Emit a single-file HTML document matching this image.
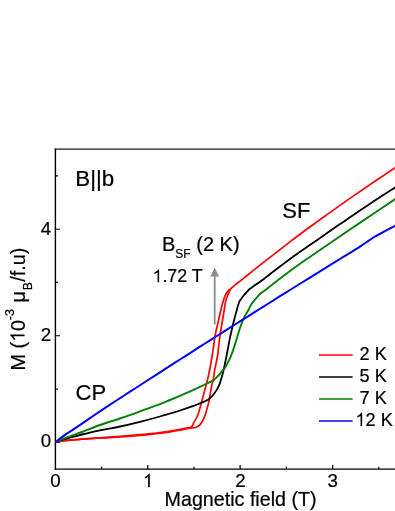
<!DOCTYPE html>
<html>
<head>
<meta charset="utf-8">
<title>Magnetization</title>
<style>
html,body{margin:0;padding:0;background:#fff;}
body{width:395px;height:511px;overflow:hidden;}
svg{display:block;will-change:transform;}
text{font-family:"Liberation Sans",sans-serif;fill:#000;stroke:#000;stroke-width:0.22px;}
</style>
</head>
<body>
<svg width="395" height="511" viewBox="0 0 395 511">
<rect x="0" y="0" width="395" height="511" fill="#ffffff"/>

<!-- axes -->
<g stroke="#000" stroke-width="1.4" fill="none">
<path d="M55.4,148.4 L55.4,469.8"/>
<path d="M54.7,469.1 L395,469.1"/>
</g>
<path d="M54.7,149.1 L395,149.1" stroke="#1a1a1a" stroke-width="1.3" fill="none"/>
<!-- ticks -->
<g stroke="#000" stroke-width="1.2" fill="none">
<path d="M55.4,442.35 H60 M55.4,335.75 H60 M55.4,229.25 H60"/>
<path d="M55.4,389.05 H58 M55.4,282.45 H58 M55.4,175.9 H58"/>
<path d="M147.8,469.1 V465 M240.1,469.1 V465 M332.6,469.1 V465"/>
<path d="M101.6,469.1 V466.8 M194,469.1 V466.8 M286.4,469.1 V466.8 M378.8,469.1 V466.8"/>
</g>

<!-- data curves -->
<g fill="none" stroke-linejoin="round" stroke-linecap="butt">
<path id="c2a" stroke="#ff0000" stroke-width="1.7" d="M55.50,442.40 C55.83,442.30 56.75,442.00 57.50,441.80 C58.25,441.60 57.92,441.48 60.00,441.20 C62.08,440.92 66.33,440.43 70.00,440.10 C73.67,439.77 77.00,439.58 82.00,439.20 C87.00,438.82 93.67,438.28 100.00,437.82 C106.33,437.37 113.33,437.00 120.00,436.47 C126.67,435.95 135.00,435.16 140.00,434.70 C145.00,434.24 146.67,434.05 150.00,433.70 C153.33,433.35 156.67,433.02 160.00,432.60 C163.33,432.18 166.67,431.73 170.00,431.20 C173.33,430.67 177.33,429.90 180.00,429.40 C182.67,428.90 184.28,428.52 186.00,428.20 C187.72,427.88 189.27,427.87 190.30,427.50 C191.33,427.13 191.63,426.78 192.20,426.00 C192.77,425.22 192.95,424.22 193.70,422.80 C194.45,421.38 195.82,419.40 196.70,417.50 C197.58,415.60 198.30,413.55 199.00,411.40 C199.70,409.25 200.17,407.30 200.90,404.60 C201.63,401.90 202.35,399.13 203.40,395.20 C204.45,391.27 206.16,385.20 207.20,381.00 C208.24,376.80 208.80,374.33 209.65,370.00 C210.50,365.67 211.38,360.83 212.30,355.00 C213.23,349.17 214.33,340.00 215.20,335.00 C216.07,330.00 216.75,328.33 217.50,325.00 C218.25,321.67 218.93,318.33 219.70,315.00 C220.47,311.67 221.33,307.88 222.10,305.00 C222.87,302.12 223.58,299.67 224.30,297.70 C225.02,295.73 225.62,294.50 226.40,293.20 C227.18,291.90 228.33,290.57 229.00,289.90 C229.67,289.23 229.43,290.00 230.40,289.20 C231.37,288.40 233.32,286.35 234.80,285.10 C236.28,283.85 237.73,282.90 239.30,281.70 C240.87,280.50 240.75,280.65 244.20,277.90 C247.65,275.15 253.07,270.67 260.00,265.20 C266.93,259.73 279.13,250.27 285.80,245.10 C292.47,239.93 293.22,239.22 300.00,234.20 C306.78,229.18 317.33,221.55 326.50,215.00 C335.67,208.45 343.25,203.00 355.00,194.90 C366.75,186.80 390.00,171.15 397.00,166.40"/>
<path id="c2b" stroke="#ff0000" stroke-width="1.7" d="M55.50,442.40 C55.83,442.30 56.75,442.00 57.50,441.80 C58.25,441.60 57.92,441.48 60.00,441.20 C62.08,440.92 66.33,440.43 70.00,440.10 C73.67,439.77 77.00,439.55 82.00,439.20 C87.00,438.85 93.67,438.36 100.00,437.99 C106.33,437.61 113.33,437.40 120.00,436.96 C126.67,436.52 135.00,435.79 140.00,435.35 C145.00,434.91 146.67,434.70 150.00,434.35 C153.33,434.00 156.67,433.67 160.00,433.25 C163.33,432.83 166.67,432.38 170.00,431.85 C173.33,431.32 177.33,430.55 180.00,430.05 C182.67,429.55 184.28,429.17 186.00,428.85 C187.72,428.53 189.13,428.31 190.30,428.15 C191.47,427.99 192.15,428.01 193.00,427.90 C193.85,427.79 194.63,427.72 195.40,427.50 C196.17,427.28 196.88,427.00 197.60,426.60 C198.32,426.20 198.83,426.12 199.70,425.10 C200.57,424.08 201.85,422.28 202.80,420.50 C203.75,418.72 204.65,416.55 205.40,414.40 C206.15,412.25 206.72,409.75 207.30,407.60 C207.88,405.45 208.15,405.27 208.90,401.50 C209.65,397.73 211.07,388.58 211.80,385.00 C212.53,381.42 212.82,382.50 213.30,380.00 C213.78,377.50 213.97,374.17 214.70,370.00 C215.43,365.83 217.02,359.17 217.70,355.00 C218.38,350.83 218.40,348.33 218.80,345.00 C219.20,341.67 219.62,338.33 220.10,335.00 C220.58,331.67 221.15,328.33 221.70,325.00 C222.25,321.67 222.85,318.33 223.40,315.00 C223.95,311.67 224.53,307.62 225.00,305.00 C225.47,302.38 225.65,301.15 226.20,299.30 C226.75,297.45 227.62,295.55 228.30,293.90 C228.98,292.25 229.97,290.15 230.30,289.40"/>
<path id="c5" stroke="#000000" stroke-width="1.8" d="M55.50,442.40 C55.83,442.22 56.75,441.63 57.50,441.30 C58.25,440.97 57.92,441.02 60.00,440.40 C62.08,439.78 66.33,438.58 70.00,437.60 C73.67,436.62 77.00,435.70 82.00,434.50 C87.00,433.30 93.67,431.73 100.00,430.40 C106.33,429.07 113.33,427.93 120.00,426.50 C126.67,425.07 133.33,423.47 140.00,421.80 C146.67,420.13 155.00,417.88 160.00,416.50 C165.00,415.12 166.67,414.50 170.00,413.50 C173.33,412.50 176.22,411.72 180.00,410.50 C183.78,409.28 189.37,407.40 192.70,406.20 C196.03,405.00 197.52,404.32 200.00,403.30 C202.48,402.28 205.45,401.45 207.60,400.10 C209.75,398.75 211.38,396.90 212.90,395.20 C214.42,393.50 215.62,391.65 216.70,389.90 C217.78,388.15 218.70,386.35 219.40,384.70 C220.10,383.05 220.20,382.45 220.90,380.00 C221.60,377.55 222.57,374.50 223.60,370.00 C224.63,365.50 226.10,358.08 227.10,353.00 C228.10,347.92 229.02,342.50 229.60,339.50 C230.18,336.50 229.95,337.83 230.60,335.00 C231.25,332.17 232.47,326.67 233.50,322.50 C234.53,318.33 236.02,312.92 236.80,310.00 C237.58,307.08 237.73,306.50 238.20,305.00 C238.67,303.50 239.32,301.73 239.60,301.00 C239.88,300.27 239.15,301.60 239.90,300.60 C240.65,299.60 242.55,296.87 244.10,295.00 C245.65,293.13 248.28,290.40 249.20,289.40 C250.12,288.40 248.55,289.77 249.60,289.00 C250.65,288.23 253.60,286.13 255.50,284.80 C257.40,283.47 256.92,284.05 261.00,281.00 C265.08,277.95 273.50,271.37 280.00,266.50 C286.50,261.63 293.33,256.57 300.00,251.80 C306.67,247.03 313.33,242.52 320.00,237.90 C326.67,233.28 331.97,229.58 340.00,224.10 C348.03,218.62 358.70,211.30 368.20,205.00 C377.70,198.70 392.20,189.42 397.00,186.30"/>
<path id="c7" stroke="#008000" stroke-width="1.9" d="M55.50,442.40 C55.83,442.18 56.75,441.50 57.50,441.10 C58.25,440.70 57.92,440.80 60.00,440.00 C62.08,439.20 66.33,437.63 70.00,436.30 C73.67,434.97 77.00,433.88 82.00,432.00 C87.00,430.12 93.67,427.25 100.00,425.00 C106.33,422.75 114.67,420.27 120.00,418.50 C125.33,416.73 128.67,415.60 132.00,414.40 C135.33,413.20 135.33,413.02 140.00,411.30 C144.67,409.58 155.00,405.98 160.00,404.10 C165.00,402.22 166.67,401.38 170.00,400.00 C173.33,398.62 176.67,397.23 180.00,395.80 C183.33,394.37 186.67,392.90 190.00,391.40 C193.33,389.90 197.17,388.12 200.00,386.80 C202.83,385.48 204.72,384.63 207.00,383.50 C209.28,382.37 211.78,381.33 213.70,380.00 C215.62,378.67 216.98,377.13 218.50,375.50 C220.02,373.87 221.62,371.63 222.80,370.20 C223.98,368.77 224.73,368.22 225.60,366.90 C226.47,365.58 227.18,363.92 228.00,362.30 C228.82,360.68 229.52,359.60 230.50,357.20 C231.48,354.80 232.90,350.85 233.90,347.90 C234.90,344.95 235.85,341.65 236.50,339.50 C237.15,337.35 237.18,337.00 237.80,335.00 C238.42,333.00 239.17,330.40 240.20,327.50 C241.23,324.60 242.67,320.43 244.00,317.60 C245.33,314.77 247.05,312.60 248.20,310.50 C249.35,308.40 249.93,306.62 250.90,305.00 C251.87,303.38 252.85,302.25 254.00,300.80 C255.15,299.35 256.60,297.58 257.80,296.30 C259.00,295.02 260.00,294.10 261.20,293.10 C262.40,292.10 263.35,291.58 265.00,290.30 C266.65,289.02 267.77,288.00 271.10,285.40 C274.43,282.80 280.18,278.32 285.00,274.70 C289.82,271.08 295.38,266.98 300.00,263.70 C304.62,260.42 306.03,259.57 312.70,255.00 C319.37,250.43 331.28,242.23 340.00,236.30 C348.72,230.37 357.27,224.62 365.00,219.40 C372.73,214.18 381.07,208.55 386.40,205.00 C391.73,201.45 395.23,199.25 397.00,198.10"/>
<path id="c12" stroke="#0000ff" stroke-width="2" d="M55.50,442.40 C55.83,442.08 56.75,441.15 57.50,440.50 C58.25,439.85 58.75,439.43 60.00,438.50 C61.25,437.57 63.33,436.05 65.00,434.90 C66.67,433.75 67.17,433.48 70.00,431.60 C72.83,429.72 78.67,425.85 82.00,423.60 C85.33,421.35 87.00,420.15 90.00,418.10 C93.00,416.05 96.67,413.53 100.00,411.30 C103.33,409.07 106.67,406.88 110.00,404.70 C113.33,402.52 116.67,400.37 120.00,398.20 C123.33,396.03 126.67,393.87 130.00,391.71 C133.33,389.55 136.67,387.39 140.00,385.23 C143.33,383.08 146.67,380.92 150.00,378.77 C153.33,376.62 156.67,374.47 160.00,372.33 C163.33,370.18 166.67,368.04 170.00,365.90 C173.33,363.76 176.67,361.62 180.00,359.48 C183.33,357.35 186.67,355.22 190.00,353.09 C193.33,350.96 196.67,348.83 200.00,346.70 C203.33,344.58 206.67,342.46 210.00,340.34 C213.33,338.22 216.67,336.10 220.00,333.99 C223.33,331.87 226.67,329.76 230.00,327.65 C233.33,325.55 236.67,323.44 240.00,321.34 C243.33,319.23 246.67,317.13 250.00,315.03 C253.33,312.94 256.67,310.84 260.00,308.75 C263.33,306.65 266.67,304.56 270.00,302.48 C273.33,300.39 276.67,298.30 280.00,296.22 C283.33,294.14 286.67,292.06 290.00,289.98 C293.33,287.90 296.67,285.83 300.00,283.76 C303.33,281.68 306.67,279.62 310.00,277.55 C313.33,275.48 316.67,273.42 320.00,271.36 C323.33,269.29 326.67,267.24 330.00,265.18 C333.33,263.12 336.67,261.07 340.00,259.02 C343.33,256.97 346.67,254.94 350.00,252.87 C353.33,250.80 357.00,248.55 360.00,246.60 C363.00,244.65 365.50,242.88 368.00,241.20 C370.50,239.52 373.67,237.37 375.00,236.50 C376.33,235.63 374.33,236.88 376.00,236.00 C377.67,235.12 381.50,233.05 385.00,231.20 C388.50,229.35 395.00,225.95 397.00,224.90"/>
</g>

<!-- arrow -->
<line x1="214.7" y1="324.5" x2="214.7" y2="276" stroke="#8c8c8c" stroke-width="1.8"/>
<polygon points="214.7,267.5 210.4,276.6 219,276.6" fill="#8c8c8c"/>

<!-- tick labels -->
<g font-size="18.7px">
<text x="51.2" y="447.4" text-anchor="end">0</text>
<text x="51.2" y="341.2" text-anchor="end">2</text>
<text x="51.2" y="234.6" text-anchor="end">4</text>
<text x="55.4" y="487.2" text-anchor="middle">0</text>
<path d="M763 0H583V1147Q518 1085 412.5 1023T223 930V1104Q374 1175 487 1276T647 1472H763Z" transform="translate(142.80,487.20) scale(0.00913,-0.00913)" fill="#000"/>
<text x="240.5" y="487.2" text-anchor="middle">2</text>
<text x="332.7" y="487.2" text-anchor="middle">3</text>
</g>

<!-- axis labels -->
<text x="240.6" y="505.7" font-size="19.7px" text-anchor="middle">Magnetic field (T)</text>
<g transform="translate(24.5,0) rotate(-90)" font-size="19.8px">
<text x="-370.5" y="0">M (</text><path d="M763 0H583V1147Q518 1085 412.5 1023T223 930V1104Q374 1175 487 1276T647 1472H763Z" transform="translate(-341.91,0.00) scale(0.00967,-0.00967)" fill="#000"/><text x="-330.90" y="0">0</text>
<text x="-320.2" y="-10.3" font-size="12.5px">-3</text>
<text x="-302.6" y="0">μ</text>
<text x="-290.2" y="7.5" font-size="12.2px">B</text>
<text x="-281.7" y="0">/f.u)</text>
</g>

<!-- annotations -->
<text x="75.3" y="185.8" font-size="22.3px">B||b</text>
<text x="282.3" y="218.1" font-size="22px">SF</text>
<text x="75.6" y="399.6" font-size="22px">CP</text>
<text x="162" y="250.6" font-size="20px">B<tspan font-size="12px" dy="7.5">SF</tspan><tspan dy="-7.5"> (2 K)</tspan></text>
<path d="M763 0H583V1147Q518 1085 412.5 1023T223 930V1104Q374 1175 487 1276T647 1472H763Z" transform="translate(152.50,282.20) scale(0.00869,-0.00869)" fill="#000"/><text x="162.40" y="282.2" font-size="17.8px">.72 T</text>

<!-- legend -->
<g stroke-width="1.4" fill="none">
<path d="M319,355 H352.6" stroke="#ff0000"/>
<path d="M319,377 H352.6" stroke="#000000"/>
<path d="M319,399 H352.6" stroke="#008000"/>
<path d="M319,421 H352.6" stroke="#0000ff"/>
</g>
<g font-size="18.2px" text-anchor="end">
<text x="386.9" y="360.2">2 K</text>
<text x="386.9" y="382.1">5 K</text>
<text x="386.9" y="404.0">7 K</text>
<path d="M763 0H583V1147Q518 1085 412.5 1023T223 930V1104Q374 1175 487 1276T647 1472H763Z" transform="translate(355.36,425.90) scale(0.00889,-0.00889)" fill="#000"/><text x="392.8" y="425.9">2 K</text>
</g>
</svg>
</body>
</html>
